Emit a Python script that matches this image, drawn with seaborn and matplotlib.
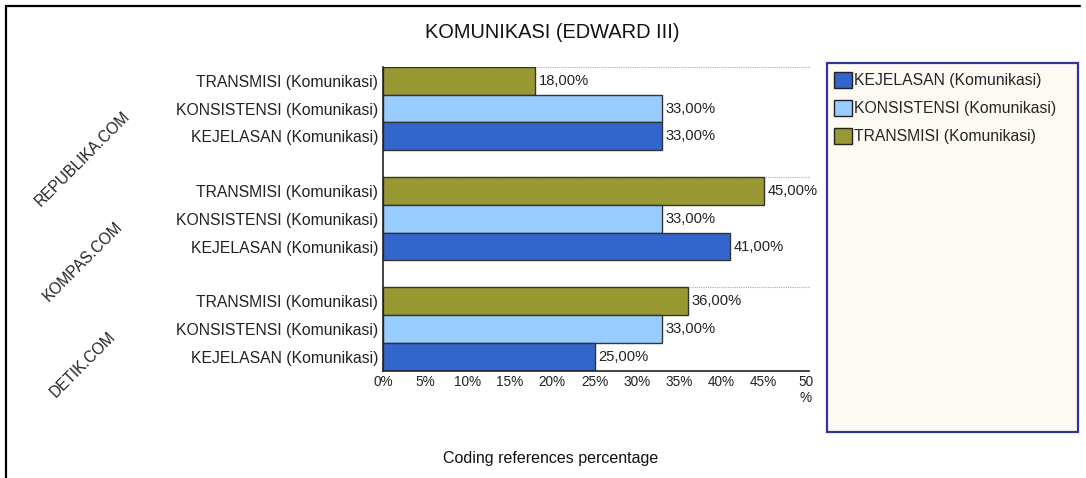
import pandas as pd
import seaborn as sns
import matplotlib.pyplot as plt
from matplotlib.patches import Rectangle, Patch
from matplotlib.lines import Line2D

# data
sites = ['REPUBLIKA.COM', 'KOMPAS.COM', 'DETIK.COM']
categories = ['KEJELASAN (Komunikasi)', 'KONSISTENSI (Komunikasi)', 'TRANSMISI (Komunikasi)']
kejelasan = [33, 41, 25]
konsistensi = [33, 33, 33]
transmisi = [18, 45, 36]
x_ticks = [0, 5, 10, 15, 20, 25, 30, 35, 40, 45, 50]
x_tick_labels = ['0%', '5%', '10%', '15%', '20%', '25%', '30%', '35%', '40%', '45%', '50\n%']
colors = {'KEJELASAN (Komunikasi)': '#3366CC',
          'KONSISTENSI (Komunikasi)': '#99CCFF',
          'TRANSMISI (Komunikasi)': '#999933'}

rows = []
for i, s in enumerate(sites):
    rows.append({'Site': s, 'Category': categories[0], 'Value': kejelasan[i]})
    rows.append({'Site': s, 'Category': categories[1], 'Value': konsistensi[i]})
    rows.append({'Site': s, 'Category': categories[2], 'Value': transmisi[i]})
df = pd.DataFrame(rows)

sns.set_style('white')
plt.rcParams['font.family'] = ['Liberation Sans', 'DejaVu Sans']

W, H = 1086, 478
fig = plt.figure(figsize=(W / 100, H / 100), dpi=100)
ax = fig.add_axes([383 / W, 1 - 370.6 / H, 423 / W, 303.6 / H])

# top bar first inside each group
hue_order = categories[::-1]
bw = 0.755
sns.barplot(data=df, y='Site', x='Value', hue='Category', hue_order=hue_order,
            order=sites, orient='h', palette=colors, width=bw, dodge=True,
            edgecolor='#333333', linewidth=1.0, saturation=1, legend=False, ax=ax)

ax.set_xlim(0, 50)
ax.set_ylim(len(sites) - 1 + bw / 2, -bw / 2)

# value labels
for cont in ax.containers:
    ax.bar_label(cont, labels=[('%.2f%%' % b.get_width()).replace('.', ',') for b in cont],
                 padding=2.5, fontsize=10.6, color='#222222')

# per-bar tick labels
centers = []
labels = []
for cont, cat in zip(ax.containers, hue_order):
    for b in cont:
        centers.append(b.get_y() + b.get_height() / 2)
        labels.append(cat)
ax.set_yticks(centers)
ax.set_yticklabels(labels, fontsize=11.3, color='#222222')
ax.set_ylabel('')
ax.set_xlabel('')
ax.set_xticks(x_ticks)
ax.set_xticklabels(x_tick_labels, fontsize=9.8, color='#222222', multialignment='center')
ax.tick_params(axis='both', length=0)
ax.tick_params(axis='y', pad=3.5)
ax.tick_params(axis='x', pad=3)

# dotted lines at the top of each group
for b in ax.containers[0]:
    ax.plot([0, 1.01], [b.get_y(), b.get_y()], transform=ax.get_yaxis_transform(),
            color='#aaaaaa', linestyle=(0, (1, 1)), linewidth=0.8, clip_on=False, zorder=0)

for sp in ['top', 'right']:
    ax.spines[sp].set_visible(False)
for sp in ['left', 'bottom']:
    ax.spines[sp].set_color('#222222')
    ax.spines[sp].set_linewidth(1.2)
ax.spines['bottom'].set_bounds(0, 50.4)

# rotated group labels
for i, s in enumerate(sites):
    ax.text((83 - 383) / 423, i, s, transform=ax.get_yaxis_transform(), rotation=45,
            ha='center', va='top', fontsize=11.2, color='#222222')

fig.text(552 / W, 1 - 32 / H, 'KOMUNIKASI (EDWARD III)', ha='center', va='center',
         fontsize=14.4, color='#111111')
fig.text(551 / W, 1 - 458 / H, 'Coding references percentage', ha='center', va='center',
         fontsize=11.5, color='#111111')

# outer frame lines
fig.add_artist(Line2D([6 / W, 1080 / W], [1 - 6 / H, 1 - 6 / H], color='black', linewidth=1.6))
fig.add_artist(Line2D([6 / W, 6 / W], [1 - 6 / H, 0], color='black', linewidth=1.6))

# legend box
fig.add_artist(Rectangle((827 / W, 1 - 432 / H), 251 / W, 369 / H, transform=fig.transFigure,
                         facecolor='#FDF9F3', edgecolor='#333399', linewidth=1.6))
handles = [Patch(facecolor=colors[c], edgecolor='#222222', linewidth=1.0) for c in categories]
fig.legend(handles, categories, loc='upper left', bbox_to_anchor=(832 / W, 1 - 70 / H),
           frameon=False, fontsize=11.3, handlelength=1.15, handleheight=1.2,
           handletextpad=0.12, labelspacing=0.75, borderaxespad=0, borderpad=0.1)

fig.savefig('out.png', dpi=100, facecolor='white')
